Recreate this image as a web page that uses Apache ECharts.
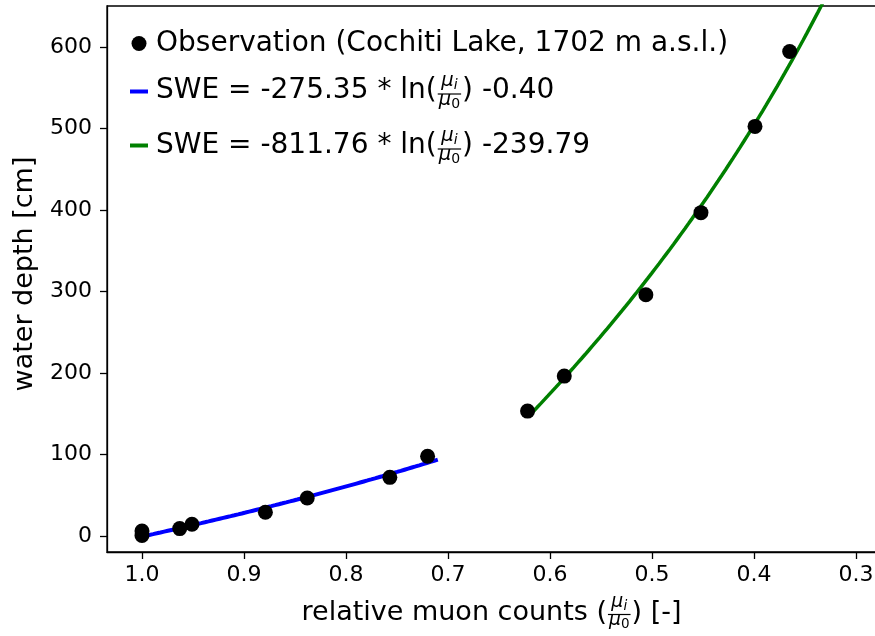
<!DOCTYPE html>
<html><head><meta charset="utf-8">
<script src="https://cdn.jsdelivr.net/npm/echarts@6/dist/echarts.min.js"></script>
<style>html,body{margin:0;padding:0;background:#fff}#c{width:875px;height:636px}</style>
</head><body><div id="c"></div>
<script>
// ---- data ----
const obsX = [1.000, 1.000, 0.963, 0.951, 0.879, 0.838, 0.757, 0.720, 0.622, 0.586, 0.506, 0.452, 0.399, 0.365];
const obsY = [0.9, 6.5, 9.4, 14.7, 29.4, 46.9, 72.2, 98.0, 153.4, 196.3, 296.0, 396.7, 502.4, 594.2];
// fit curves: SWE = a * ln(x) + b over [from, to]
const blueCoef = [-275.35, -0.40];
const blueRange = [1.0, 0.71];
const greenCoef = [-811.76, -239.79];
const greenRange = [0.62, 0.33];
const xTicks = [1.0, 0.9, 0.8, 0.7, 0.6, 0.5, 0.4, 0.3];
const yTicks = [0, 100, 200, 300, 400, 500, 600];
const legendNames = ['Observation (Cochiti Lake, 1702 m a.s.l.)', 'SWE = -275.35 * ln(', ') -0.40', 'SWE = -811.76 * ln(', ') -239.79'];
const xName = ['relative muon counts (', ') [-]'];
const yName = 'water depth [cm]';

function fitCurve(coef, range) {
  const pts = [];
  const n = 80;
  for (let i = 0; i <= n; i++) {
    const x = range[0] + (range[1] - range[0]) * i / n;
    pts.push([x, coef[0] * Math.log(x) + coef[1]]);
  }
  return pts;
}

const FF = '"DejaVu Sans", sans-serif';
const cv = document.createElement('canvas').getContext('2d');
function tw(str, size, italic) { cv.font = (italic ? 'italic ' : '') + size + 'px "DejaVu Sans"'; return cv.measureText(str).width; }
const K = 0.346;
function T(x, base, str, size, italic, align) {
  return { type: 'text', x: x, y: base - K * size, silent: true, z: 100,
    style: { text: str, fill: '#000', fontSize: size, fontFamily: FF, fontStyle: italic ? 'italic' : 'normal',
      align: align || 'left', verticalAlign: 'middle' } };
}
function frac(xl, barY, s) {
  const ms = 0.7 * s, ss = 0.5 * s;
  const wMu = tw('\u03bc', ms, true), wI = tw('i', ss, true), w0 = tw('0', ss, false);
  const wb = Math.max(wMu + wI, wMu + w0) + 2;
  const cx = xl + wb / 2;
  const nx = cx - (wMu + wI) / 2, dx = cx - (wMu + w0) / 2;
  const els = [
    { type: 'line', silent: true, z: 100, shape: { x1: xl, y1: barY, x2: xl + wb, y2: barY }, style: { stroke: '#000', lineWidth: 1.2 } },
    T(nx, barY - 0.23 * s, '\u03bc', ms, true),
    T(nx + wMu, barY - 0.12 * s, 'i', ss, true),
    T(dx, barY + 0.46 * s, '\u03bc', ms, true),
    T(dx + wMu, barY + 0.56 * s, '0', ss, false)
  ];
  return { els: els, width: wb };
}
function fracRow(x0, base, barY, s, pre, post) {
  const w1 = tw(pre, s, false);
  const f = frac(x0 + w1 + 1, barY, s);
  return [T(x0, base, pre, s, false)].concat(f.els, [T(x0 + w1 + 1 + f.width + 1, base, post, s, false)]);
}

const graphics = [];
// legend
graphics.push({ type: 'circle', silent: true, z: 100, shape: { cx: 139, cy: 43.5, r: 7.5 }, style: { fill: '#000' } });
graphics.push(T(156, 53.5, legendNames[0], 28, false));
graphics.push({ type: 'line', silent: true, z: 100, shape: { x1: 130, y1: 91.5, x2: 148, y2: 91.5 }, style: { stroke: '#0000ff', lineWidth: 4 } });
graphics.push(...fracRow(156, 100, 94, 28, legendNames[1], legendNames[2]));
graphics.push({ type: 'line', silent: true, z: 100, shape: { x1: 130, y1: 145.5, x2: 148, y2: 145.5 }, style: { stroke: '#008000', lineWidth: 4 } });
graphics.push(...fracRow(156, 155, 149, 28, legendNames[3], legendNames[4]));
// x axis name
(function () {
  const s = 27;
  const fw = frac(0, 0, s).width;
  const total = tw(xName[0], s) + 1 + fw + 1 + tw(xName[1], s);
  graphics.push(...fracRow(491.5 - total / 2, 622, 614.5, s, xName[0], xName[1]));
})();
// y axis name
graphics.push({ type: 'text', x: 25, y: 274, rotation: Math.PI / 2, silent: true,
  style: { text: yName, fill: '#000', fontSize: 27, fontFamily: FF, align: 'center', verticalAlign: 'middle' } });

const chart = echarts.init(document.getElementById('c'), null, { renderer: 'canvas' });
chart.setOption({
  animation: false,
  backgroundColor: '#fff',
  grid: { left: 107, top: 6, width: 773, height: 546, show: true, borderColor: '#000', borderWidth: 1.3,
    containLabel: false, outerBoundsMode: 'none' },
  xAxis: {
    type: 'value', inverse: true, min: 1.0343 - 773 / 1020, max: 1.0343,
    axisLine: { show: true, onZero: false, lineStyle: { color: '#000', width: 1.3 } },
    axisTick: { show: true, inside: false, length: 7, customValues: xTicks, lineStyle: { color: '#000', width: 1.3 } },
    axisLabel: { show: true, margin: 12, customValues: xTicks, color: '#000', fontSize: 22, fontFamily: FF, formatter: v => v.toFixed(1) },
    splitLine: { show: false }
  },
  yAxis: {
    type: 'value', min: -19.3, max: 650,
    axisLine: { show: true, onZero: false, lineStyle: { color: '#000', width: 1.3 } },
    axisTick: { show: true, inside: false, length: 7, customValues: yTicks, lineStyle: { color: '#000', width: 1.3 } },
    axisLabel: { show: true, margin: 15, customValues: yTicks, color: '#000', fontSize: 22, fontFamily: FF },
    splitLine: { show: false }
  },
  graphic: graphics,
  series: [
    { type: 'line', name: 'blue fit', data: fitCurve(blueCoef, blueRange), showSymbol: false, clip: true, z: 3,
      lineStyle: { color: '#0000ff', width: 4 }, itemStyle: { color: '#0000ff' } },
    { type: 'line', name: 'green fit', data: fitCurve(greenCoef, greenRange), showSymbol: false, clip: true, z: 3,
      lineStyle: { color: '#008000', width: 3.5 }, itemStyle: { color: '#008000' } },
    { type: 'scatter', name: 'Observation', data: obsX.map((x, i) => [x, obsY[i]]), symbol: 'circle', symbolSize: 15, z: 5,
      itemStyle: { color: '#000', opacity: 1 } }
  ]
});
</script>
</body></html>
